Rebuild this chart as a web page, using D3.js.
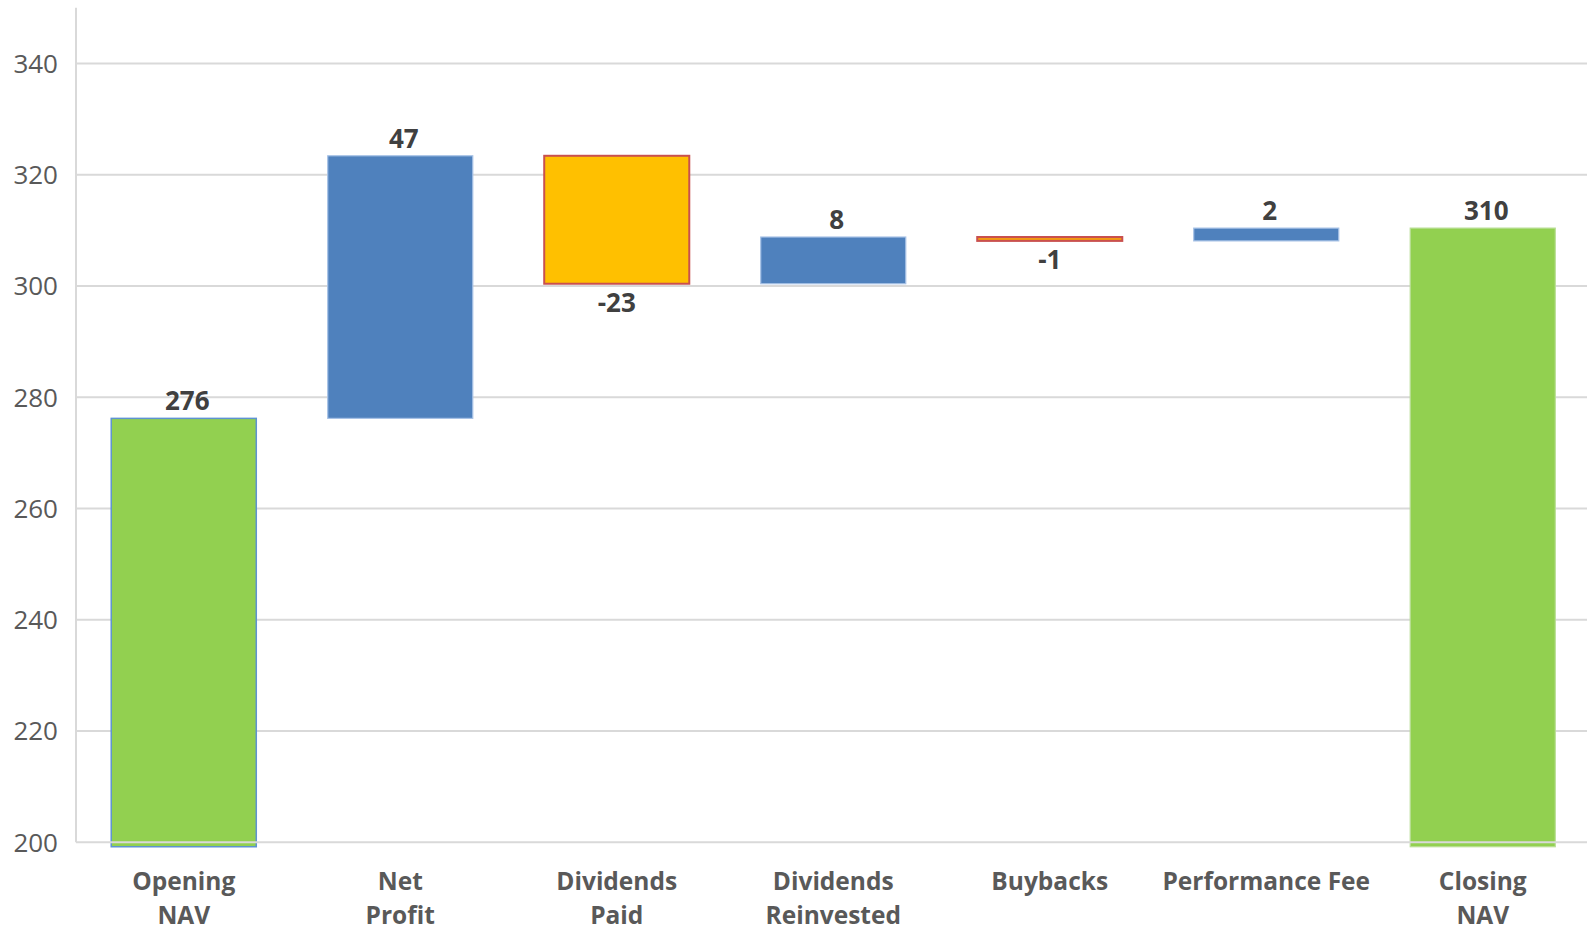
<!DOCTYPE html>
<html>
<head>
<meta charset="utf-8">
<script src="https://cdn.jsdelivr.net/npm/d3@7"></script>
<style>
  html, body { margin: 0; padding: 0; background: #ffffff; }
  svg { display: block; }
  text { font-family: "Open Sans", "Noto Sans", sans-serif; }
</style>
</head>
<body>
<div id="chart"></div>
<script>
// NAV bridge: opening value, movements, closing value
const categories = ["Opening NAV", "Net Profit", "Dividends Paid", "Dividends Reinvested", "Buybacks", "Performance Fee", "Closing NAV"];
const categoryLines = [["Opening", "NAV"], ["Net", "Profit"], ["Dividends", "Paid"], ["Dividends", "Reinvested"], ["Buybacks"], ["Performance Fee"], ["Closing", "NAV"]];
const kinds = ["total", "change", "change", "change", "change", "change", "total"];
const values = [276.2, 47.2, -23.0, 8.4, -0.7, 2.3, 310.4];
const yTicks = [200, 220, 240, 260, 280, 300, 320, 340];
const yDomain = [200, 350];
const totalBase = 199.2;

// Bar appearance per category
const fills   = ["#92D050", "#4F81BD", "#FFC000", "#4F81BD", "#F39C12", "#4F81BD", "#92D050"];
const strokes = ["#5E93D1", "#A7C2E6", "#C9504E", "#A7C2E6", "#C9504E", "#A7C2E6", "#B9DE95"];
const strokeW = [1.5, 1.2, 2, 1.2, 2, 1.2, 1.2];

const W = 1587, H = 930;
const svg = d3.select("#chart").append("svg").attr("width", W).attr("height", H);

const x = d3.scaleBand().domain(categories).range([75.5, 75.5 + 7 * 216.5])
  .paddingInner(0.33).paddingOuter(0.165);
const y = d3.scaleLinear().domain(yDomain).range([842.3, 7.8]);

// Running totals for the waterfall
let running = 0;
const bars = categories.map((c, i) => {
  let lo, hi;
  if (kinds[i] === "total") {
    lo = totalBase; hi = values[i]; running = values[i];
  } else {
    const start = running; running += values[i];
    lo = Math.min(start, running); hi = Math.max(start, running);
  }
  return { c, i, v: values[i], lo, hi };
});

// Gridlines (under the bars)
svg.append("g").selectAll("line").data(yTicks.filter(t => t !== yDomain[0])).join("line")
  .attr("x1", 76).attr("x2", W)
  .attr("y1", d => y(d)).attr("y2", d => y(d))
  .attr("stroke", "#d9d9d9").attr("stroke-width", 2);

// Tick labels
svg.append("g").selectAll("text").data(yTicks).join("text")
  .attr("x", 58).attr("y", d => y(d)).attr("dy", "0.36em")
  .attr("text-anchor", "end").attr("font-size", 26).attr("fill", "#595959")
  .text(d => d);

// Bars
svg.append("g").selectAll("rect").data(bars).join("rect")
  .attr("x", d => x(d.c)).attr("width", x.bandwidth())
  .attr("y", d => y(d.hi)).attr("height", d => Math.max(y(d.lo) - y(d.hi), 1))
  .attr("fill", d => fills[d.i]).attr("stroke", d => strokes[d.i])
  .attr("stroke-width", d => strokeW[d.i]);

// Value axis line and base line drawn over the bars
svg.append("line").attr("x1", 76).attr("x2", 76).attr("y1", y(yDomain[1])).attr("y2", y(yDomain[0]))
  .attr("stroke", "#d9d9d9").attr("stroke-width", 2);
svg.append("line").attr("x1", 76).attr("x2", W).attr("y1", y(yDomain[0])).attr("y2", y(yDomain[0]))
  .attr("stroke", "#d9d9d9").attr("stroke-width", 2);

// Data labels (plain hyphen for negatives)
const fmt = v => d3.format(".0f")(v).replace("\u2212", "-");
svg.append("g").selectAll("text").data(bars).join("text")
  .attr("x", d => x(d.c) + x.bandwidth() / 2 + (d.v < 0 ? 0 : 3.5))
  .attr("y", d => d.v < 0 ? y(d.lo) + 28 : y(d.hi) - 8)
  .attr("text-anchor", "middle").attr("font-size", 26).attr("font-weight", 700)
  .attr("fill", "#404040")
  .text(d => fmt(d.v));

// Category labels
const cat = svg.append("g").selectAll("text").data(categories).join("text")
  .attr("x", d => x(d) + x.bandwidth() / 2).attr("y", 890)
  .attr("text-anchor", "middle").attr("font-size", 24.5).attr("font-weight", 700)
  .attr("fill", "#595959");
cat.selectAll("tspan").data((d, i) => categoryLines[i]).join("tspan")
  .attr("x", function () { return d3.select(this.parentNode).attr("x"); })
  .attr("dy", (d, j) => j === 0 ? 0 : 34)
  .text(d => d);
</script>
</body>
</html>
